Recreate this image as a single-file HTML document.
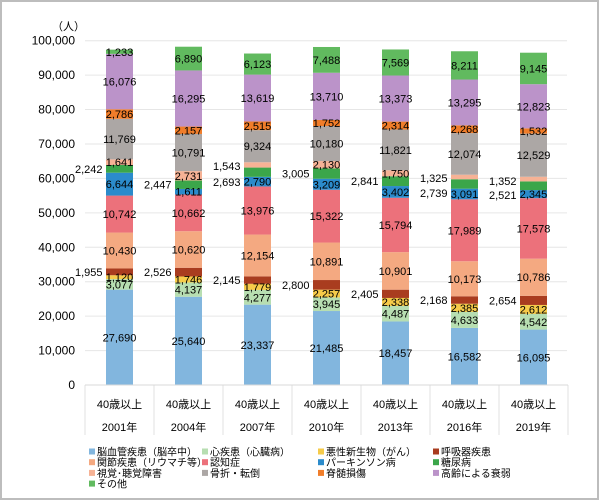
<!DOCTYPE html>
<html><head><meta charset="utf-8"><style>
html,body{margin:0;padding:0;background:#fff}
svg{display:block}
text{font-family:"Liberation Sans","Noto Sans CJK JP",sans-serif;fill:#000}
</style></head><body>
<svg id="c" width="600" height="501" xmlns="http://www.w3.org/2000/svg"></svg>
<script>
const s=document.getElementById('c');let h='';
h+='<rect x="1" y="1" width="597" height="498" fill="#fff" stroke="#bdbdbd" stroke-width="2"/>';
const y0=385,k=(385-40.7)/100000;
for(let i=0;i<=10;i++){const y=y0-i*10000*k;
 if(i>0)h+=`<line x1="85" x2="567" y1="${y}" y2="${y}" stroke="#e6e6e6" stroke-width="1"/>`;
 h+=`<text x="75" y="${y+4}" font-size="12" text-anchor="end">${(i*10000).toLocaleString('en-US')}</text>`;}
h+='<text x="52" y="30" font-size="11">（人）</text>';
const cols=['#82b6de','#b7deb1','#f6cb4a','#a93c1f','#f4a981','#ec717b','#2b8bcb','#3ba64a','#f6b295','#aca7a5','#f07d2a','#bb93c9','#61ba5f'];
const d={2001:[27690,3077,1120,1955,10430,10742,6644,2242,1641,11769,2786,16076,1233],
2004:[25640,4137,1746,2526,10620,10662,1611,2447,2731,10791,2157,16295,6890],
2007:[23337,4277,1779,2145,12154,13976,2790,2693,1543,9324,2515,13619,6123],
2010:[21485,3945,2257,2800,10891,15322,3209,3005,2130,10180,1752,13710,7488],
2013:[18457,4487,2338,2405,10901,15794,3402,2841,1750,11821,2314,13373,7569],
2016:[16582,4633,2385,2168,10173,17989,3091,2739,1325,12074,2268,13295,8211],
2019:[16095,4542,2612,2654,10786,17578,2345,2521,1352,12529,1532,12823,9145]};
const special={2:[182,166],5:[193,178],6:[195,181]};
let bi=0;let labels='';
for(const yr in d){const cx=119.5+69*bi;let cum=0;
 d[yr].forEach((v,j)=>{const ya=y0-cum*k,yb=y0-(cum+v)*k;
  h+=`<rect x="${cx-13.5}" y="${yb}" width="27" height="${ya-yb}" fill="${cols[j]}"/>`;
  let ym=(ya+yb)/2+4;const t=v.toLocaleString('en-US');
  let out=(j==3||j==7);
  if(special[bi]&&(j==7||j==8)){out=true;ym=special[bi][j==7?0:1]+4;}
  if(out)labels+=`<text x="${cx-17}" y="${ym}" font-size="11" text-anchor="end">${t}</text>`;
  else labels+=`<text x="${cx}" y="${ym}" font-size="11" text-anchor="middle">${t}</text>`;
  cum+=v;});
 const lx=85+69*bi;
 h+=`<line x1="${lx}" x2="${lx}" y1="385" y2="435" stroke="#e0e0e0"/>`;
 h+=`<text x="${cx}" y="408" font-size="11" text-anchor="middle">40歳以上</text>`;
 h+=`<text x="${cx}" y="431" font-size="11" text-anchor="middle">${yr}年</text>`;
 bi++;}
h+=`<line x1="568" x2="568" y1="385" y2="435" stroke="#e0e0e0"/>`;
h+=`<line x1="85" x2="568" y1="385" y2="385" stroke="#d9d9d9"/>`;
h+=labels;
const names=['脳血管疾患（脳卒中）','心疾患（心臓病）','悪性新生物（がん）','呼吸器疾患','関節疾患（リウマチ等）','認知症','パーキンソン病','糖尿病','視覚･聴覚障害','骨折・転倒','脊髄損傷','高齢による衰弱','その他'];
const lxs=[89,202,318,433];
names.forEach((n,i)=>{const x=lxs[i%4],y=452+Math.floor(i/4)*10.7;
 h+=`<rect x="${x}" y="${y-3.5}" width="6" height="6" fill="${cols[i]}"/>`;
 h+=`<text x="${x+8}" y="${y+3.5}" font-size="10">${n}</text>`;});
s.innerHTML=h;
</script>
</body></html>
